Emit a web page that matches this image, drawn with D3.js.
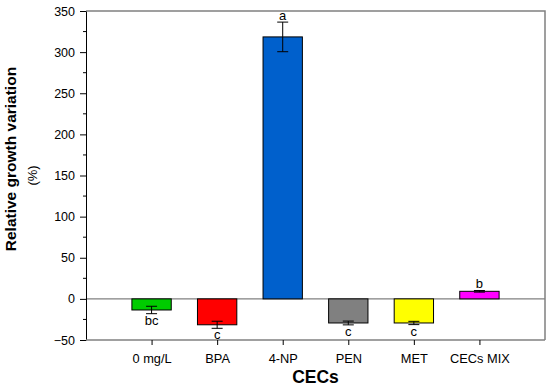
<!DOCTYPE html>
<html>
<head>
<meta charset="utf-8">
<script src="https://cdn.jsdelivr.net/npm/d3@7"></script>
<style>
  body { margin: 0; background: #fff; }
  text { font-family: "Liberation Sans", Arial, sans-serif; }
</style>
</head>
<body>
<svg width="550" height="387"></svg>
<script>
var categories = ["0 mg/L", "BPA", "4-NP", "PEN", "MET", "CECs MIX"];
var values = [-13.5, -31.5, 318.5, -29.3, -29.3, 9.2];
var errors = [4.5, 4.3, 18, 2.3, 2, 1];
var letters = ["bc", "c", "a", "c", "c", "b"];
var colors = ["#00cc00", "#ff0000", "#0060cc", "#808080", "#ffff00", "#ff00ff"];
var yTicks = [-50, 0, 50, 100, 150, 200, 250, 300, 350];

var svg = d3.select("svg");
var plotLeft = 86, plotRight = 545, plotTop = 11, plotBottom = 340;

var x = d3.scalePoint()
  .domain(categories)
  .range([plotLeft, plotRight])
  .padding(1);

var y = d3.scaleLinear()
  .domain([-50, 350])
  .range([plotBottom, plotTop]);

var barW = x.step() * 0.6;

// frame (top and right)
svg.append("path")
  .attr("d", "M" + plotLeft + "," + plotTop + "H" + plotRight + "V" + plotBottom)
  .attr("fill", "none")
  .attr("stroke", "#808080")
  .attr("stroke-width", 1.5);

// zero line
svg.append("line")
  .attr("x1", plotLeft).attr("x2", plotRight)
  .attr("y1", y(0)).attr("y2", y(0))
  .attr("stroke", "#808080")
  .attr("stroke-width", 1.2);

// bars
svg.selectAll(".bar")
  .data(categories)
  .enter()
  .append("rect")
  .attr("class", "bar")
  .attr("x", function(d) { return x(d) - barW / 2; })
  .attr("width", barW)
  .attr("y", function(d, i) { return y(Math.max(0, values[i])); })
  .attr("height", function(d, i) { return Math.abs(y(values[i]) - y(0)); })
  .attr("fill", function(d, i) { return colors[i]; })
  .attr("stroke", "#000")
  .attr("stroke-width", 1);

// error bars
var err = svg.selectAll(".err")
  .data(categories)
  .enter()
  .append("g")
  .attr("class", "err")
  .attr("stroke", "#000")
  .attr("stroke-width", 1);

err.append("line")
  .attr("x1", function(d) { return x(d); })
  .attr("x2", function(d) { return x(d); })
  .attr("y1", function(d, i) { return y(values[i] - errors[i]); })
  .attr("y2", function(d, i) { return y(values[i] + errors[i]); });

[-1, 1].forEach(function(s) {
  err.append("line")
    .attr("x1", function(d) { return x(d) - 5.5; })
    .attr("x2", function(d) { return x(d) + 5.5; })
    .attr("y1", function(d, i) { return y(values[i] + s * errors[i]); })
    .attr("y2", function(d, i) { return y(values[i] + s * errors[i]); });
});

// significance letters
svg.selectAll(".letter")
  .data(categories)
  .enter()
  .append("text")
  .attr("class", "letter")
  .attr("x", function(d) { return x(d); })
  .attr("y", function(d, i) {
    return values[i] >= 0 ? y(values[i] + errors[i]) - 2 : y(values[i] - errors[i]) + 11;
  })
  .attr("text-anchor", "middle")
  .style("font-size", "13px")
  .text(function(d, i) { return letters[i]; });

// y axis
var yAxis = svg.append("g")
  .attr("transform", "translate(" + plotLeft + ",0)")
  .call(d3.axisLeft(y).tickValues(yTicks).tickSize(6).tickSizeOuter(0).tickPadding(5));
yAxis.selectAll(".tick text").style("font-size", "12.5px").attr("fill", "#000");
yAxis.select(".domain").attr("stroke", "#000");

// minor ticks
svg.selectAll(".minor")
  .data(yTicks.slice(0, -1))
  .enter()
  .append("line")
  .attr("x1", plotLeft - 3).attr("x2", plotLeft)
  .attr("y1", function(d) { return y(d + 25); })
  .attr("y2", function(d) { return y(d + 25); })
  .attr("stroke", "#000");

// x axis
var xAxis = svg.append("g")
  .attr("transform", "translate(0," + plotBottom + ")")
  .call(d3.axisBottom(x).tickSize(5).tickSizeOuter(0).tickPadding(9));
xAxis.selectAll(".tick text").style("font-size", "12.8px").attr("fill", "#000");
xAxis.select(".domain").attr("d", "M" + plotLeft + ",0H" + plotRight).attr("stroke", "#808080").attr("stroke-width", 1.5);

// axis titles
svg.append("text")
  .attr("transform", "translate(16," + y(170) + ") rotate(-90)")
  .attr("text-anchor", "middle")
  .style("font-size", "15.5px")
  .style("font-weight", "bold")
  .text("Relative growth variation");

svg.append("text")
  .attr("transform", "translate(37," + y(150) + ") rotate(-90)")
  .attr("text-anchor", "middle")
  .style("font-size", "13px")
  .text("(%)");

svg.append("text")
  .attr("x", x("4-NP") + x.step() / 2)
  .attr("y", 383)
  .attr("text-anchor", "middle")
  .style("font-size", "17.5px")
  .style("font-weight", "bold")
  .text("CECs");
</script>
</body>
</html>
